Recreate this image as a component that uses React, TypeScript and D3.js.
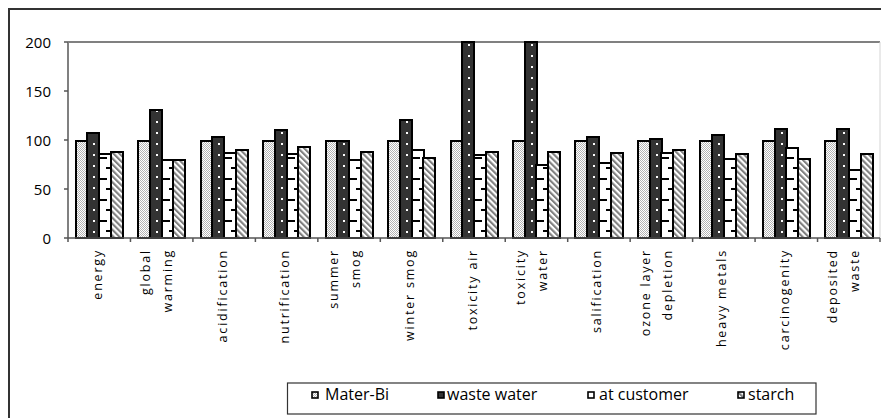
import React from "react";
import * as d3 from "d3";

const categories: string[][] = [
  ["energy"],
  ["global", "warming"],
  ["acidification"],
  ["nutrification"],
  ["summer", "smog"],
  ["winter smog"],
  ["toxicity air"],
  ["toxicity", "water"],
  ["salification"],
  ["ozone layer", "depletion"],
  ["heavy metals"],
  ["carcinogenity"],
  ["deposited", "waste"],
];
const seriesNames = ["Mater-Bi", "waste water", "at customer", "starch"];
const materBi = [99, 99, 99, 99, 99, 99, 99, 99, 99, 99, 99, 99, 99];
const wasteWater = [107, 131, 103, 110, 99, 120, 200, 200, 103, 101, 105, 111, 111];
const atCustomer = [86, 80, 87, 86, 80, 90, 85, 74, 77, 87, 81, 92, 69];
const starch = [88, 80, 90, 93, 88, 82, 88, 88, 87, 90, 86, 81, 86];
const yTicks = [0, 50, 100, 150, 200];

const W = 881;
const H = 418;
const left = 68;
const right = 880;
const top = 42;
const bottom = 238;
const FONT = "'Open Sans', 'DejaVu Sans', sans-serif";

export default function App() {
  const series = [materBi, wasteWater, atCustomer, starch];
  const idx = categories.map((_, i) => i);
  const x = d3.scaleBand<number>().domain(idx).range([left, right]).padding(0);
  const xi = d3
    .scaleBand<number>()
    .domain([0, 1, 2, 3])
    .range([0, x.bandwidth()])
    .paddingInner(0)
    .paddingOuter(0.66);
  const y = d3.scaleLinear().domain([0, 200]).range([bottom, top]);
  const bw = Math.round(xi.bandwidth());
  const barX = (i: number, s: number) => Math.round((x(i) as number) + (xi(s) as number));

  const legendItemX = [312, 438, 588, 738];
  const legendTextX = [325, 447, 599, 748];

  const fillFor = (s: number, i: number) => {
    if (s === 0) return "url(#checker)";
    if (s === 3) return "url(#stripes)";
    return `url(#p-${s}-${i})`;
  };

  return (
    <svg
      width={W}
      height={H}
      style={{ position: "absolute", left: 0, top: 0, background: "#fff" }}
      xmlns="http://www.w3.org/2000/svg"
    >
      <defs>
        <pattern id="checker" patternUnits="userSpaceOnUse" x={0} y={0} width={2} height={2}>
          <rect width={2} height={2} fill="#fff" shapeRendering="crispEdges" />
          <rect x={0} y={0} width={1} height={1} fill="#b4b4b4" shapeRendering="crispEdges" />
          <rect x={1} y={1} width={1} height={1} fill="#b4b4b4" shapeRendering="crispEdges" />
        </pattern>
        <pattern
          id="stripes"
          patternUnits="userSpaceOnUse"
          width={4.2}
          height={4.2}
          patternTransform="rotate(-45)"
        >
          <rect width={4.2} height={4.2} fill="#fff" />
          <rect width={2.1} height={4.2} fill="#808080" />
        </pattern>
        {idx.map((i) => {
          const bx = barX(i, 1);
          return (
            <pattern
              key={`ww${i}`}
              id={`p-1-${i}`}
              patternUnits="userSpaceOnUse"
              x={bx}
              y={bottom}
              width={bw}
              height={11}
            >
              <rect width={bw} height={11} fill="#333" />
              <rect x={bw / 2} y={4} width={2} height={2} fill="#fff" shapeRendering="crispEdges" />
            </pattern>
          );
        })}
        {idx.map((i) => {
          const bx = barX(i, 2);
          return (
            <pattern
              key={`ac${i}`}
              id={`p-2-${i}`}
              patternUnits="userSpaceOnUse"
              x={bx}
              y={bottom}
              width={bw}
              height={21}
            >
              <rect width={bw} height={21} fill="#fff" />
              <rect x={0} y={3} width={Math.round(bw * 0.68)} height={2} fill="#000" shapeRendering="crispEdges" />
              <rect x={Math.round(bw * 0.62)} y={13} width={Math.round(bw * 0.38)} height={2} fill="#000" shapeRendering="crispEdges" />
            </pattern>
          );
        })}
      </defs>

      {/* outer frame */}
      <rect x={9} y={9} width={W + 20} height={H + 20} fill="none" stroke="#333" strokeWidth={2} />

      {/* plot area border */}
      <line x1={left} x2={right} y1={top} y2={top} stroke="#808080" strokeWidth={2} />
      <line x1={right} x2={right} y1={top} y2={bottom} stroke="#d4d4d4" strokeWidth={1} />

      {/* bars */}
      {idx.map((i) => (
        <g key={i}>
          {series.map((vals, s) => {
            const yy = Math.round(y(vals[i]));
            return (
              <rect
                key={s}
                x={barX(i, s)}
                y={yy}
                width={bw}
                height={bottom - yy}
                fill={fillFor(s, i)}
                stroke="#000"
                strokeWidth={2}
              />
            );
          })}
        </g>
      ))}

      {/* y axis */}
      <line x1={left} x2={left} y1={top} y2={bottom} stroke="#808080" strokeWidth={2} />
      {yTicks.map((t) => (
        <g key={t}>
          <line x1={left - 4} x2={left} y1={y(t)} y2={y(t)} stroke="#555" strokeWidth={1.5} />
          <text
            x={51}
            y={y(t)}
            textAnchor="end"
            dominantBaseline="central"
            fontFamily={FONT}
            fontSize={15}
            fill="#000"
          >
            {t}
          </text>
        </g>
      ))}

      {/* x axis */}
      <line x1={left} x2={right} y1={bottom} y2={bottom} stroke="#555" strokeWidth={1.5} />
      {[...idx, categories.length].map((i) => {
        const tx = i < categories.length ? (x(i) as number) : right;
        return (
          <line key={i} x1={tx} x2={tx} y1={bottom} y2={bottom + 4} stroke="#555" strokeWidth={1.5} />
        );
      })}
      {categories.map((lines, i) => {
        const c = (x(i) as number) + x.bandwidth() / 2;
        return (
          <g key={i}>
            {lines.map((ln, k) => {
              const lx = lines.length === 1 ? c - 2 : c - 16 + k * 22;
              return (
                <text
                  key={k}
                  transform={`translate(${lx},249) rotate(-90)`}
                  textAnchor="end"
                  dominantBaseline="central"
                  fontFamily={FONT}
                  fontSize={12.5}
                  letterSpacing={1.8}
                  fill="#000"
                >
                  {ln}
                </text>
              );
            })}
          </g>
        );
      })}

      {/* legend */}
      <rect x={287.5} y={383} width={528.5} height={31} fill="#fff" stroke="#333" strokeWidth={1.2} />
      {seriesNames.map((name, s) => (
        <g key={name}>
          <rect
            x={legendItemX[s]}
            y={392}
            width={6}
            height={6}
            fill={s === 0 ? "url(#checker)" : s === 1 ? "#333" : s === 2 ? "#fff" : "url(#stripes)"}
            stroke="#000"
            strokeWidth={1.6}
          />
          <text x={legendTextX[s]} y={399.5} fontFamily={FONT} fontSize={16} fill="#000">
            {name}
          </text>
        </g>
      ))}
    </svg>
  );
}
